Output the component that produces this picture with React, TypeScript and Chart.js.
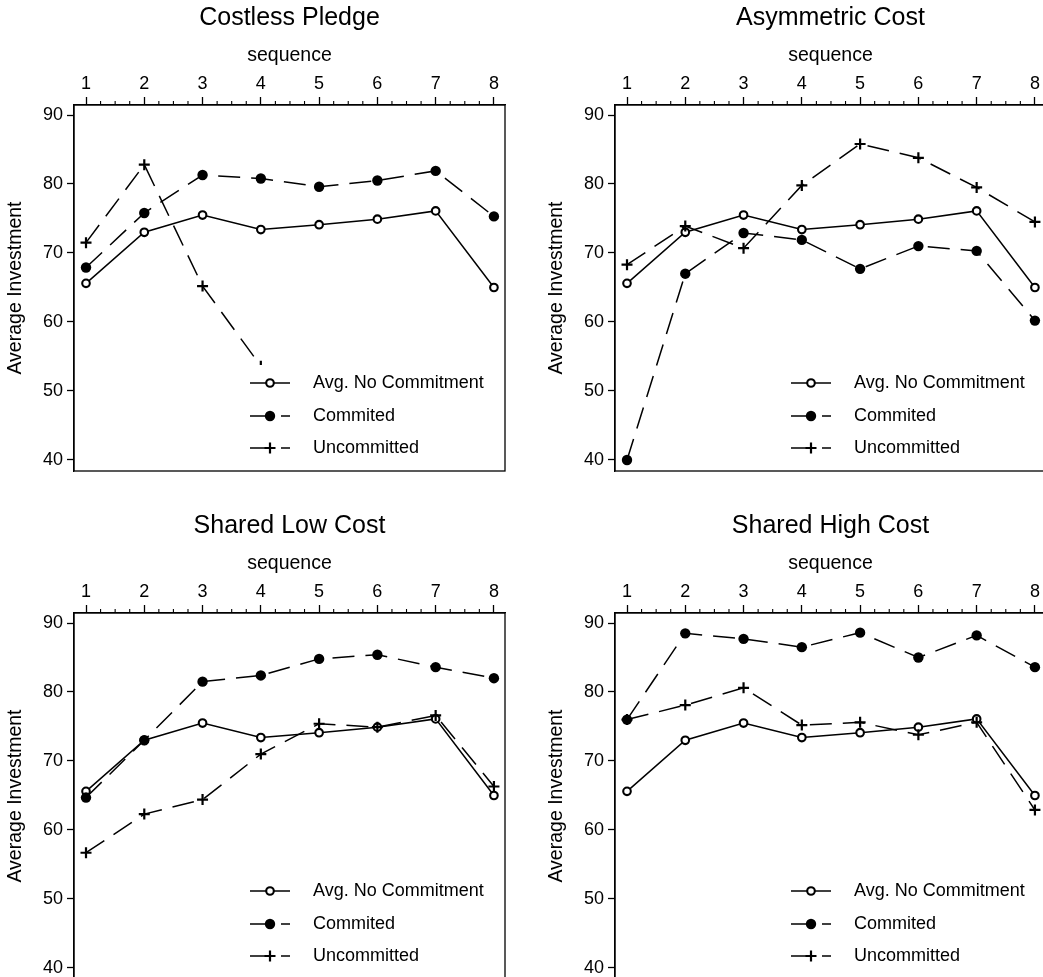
import React, { useEffect, useRef } from 'react';
import { Chart, registerables } from 'chart.js';

Chart.register(...registerables);

const FONT = "'Liberation Sans', Arial, Helvetica, sans-serif";
Chart.defaults.font.family = FONT;
Chart.defaults.color = '#000';

// ---------- data ----------
const sequence = [1, 2, 3, 4, 5, 6, 7, 8];
const xTicks = [1, 2, 3, 4, 5, 6, 7, 8];
const yTicks = [40, 50, 60, 70, 80, 90];
const seriesNames = ['Avg. No Commitment', 'Commited', 'Uncommitted'];
const panelTitles = ['Costless Pledge', 'Asymmetric Cost', 'Shared Low Cost', 'Shared High Cost'];

const avgNoCommitment = [65.6, 73.0, 75.5, 73.4, 74.1, 74.9, 76.1, 65.0];

const costlessCommitted = [67.9, 75.8, 81.3, 80.8, 79.6, 80.5, 81.9, 75.3];
const costlessUncommitted = [71.5, 82.8, 65.2, 53.6, null, null, null, null];

const asymmetricCommitted = [40.0, 67.0, 72.9, 71.9, 67.7, 71.0, 70.3, 60.2];
const asymmetricUncommitted = [68.3, 73.9, 70.7, 79.8, 85.8, 83.8, 79.5, 74.5];

const lowCommitted = [64.7, 73.0, 81.5, 82.4, 84.8, 85.4, 83.6, 82.0];
const lowUncommitted = [56.7, 62.3, 64.4, 71.0, 75.4, 74.9, 76.6, 66.3];

const highCommitted = [76.0, 88.5, 87.7, 86.5, 88.6, 85.0, 88.2, 83.6];
const highUncommitted = [76.0, 78.1, 80.6, 75.2, 75.6, 73.8, 75.6, 62.9];

const panelCommitted = [costlessCommitted, asymmetricCommitted, lowCommitted, highCommitted];
const panelUncommitted = [costlessUncommitted, asymmetricUncommitted, lowUncommitted, highUncommitted];

// ---------- styling constants ----------
const W = 541;
const H = 508;
const DASH = [22, 11];
const X_MIN = 0.794;
const X_MAX = 8.19;
const Y_MIN = 38.4;
const Y_MAX = 91.45;
const MINOR_STEP = 0.25;

function drawMarker(ctx: CanvasRenderingContext2D, kind: number, x: number, y: number) {
  ctx.save();
  ctx.setLineDash([]);
  ctx.strokeStyle = '#000';
  if (kind === 0) {
    ctx.beginPath();
    ctx.arc(x, y, 3.8, 0, Math.PI * 2);
    ctx.fillStyle = '#fff';
    ctx.fill();
    ctx.lineWidth = 2.1;
    ctx.stroke();
  } else if (kind === 1) {
    ctx.beginPath();
    ctx.arc(x, y, 5.2, 0, Math.PI * 2);
    ctx.fillStyle = '#000';
    ctx.fill();
  } else {
    ctx.lineWidth = 2.2;
    ctx.beginPath();
    ctx.moveTo(x - 5.5, y);
    ctx.lineTo(x + 5.5, y);
    ctx.moveTo(x, y - 5.5);
    ctx.lineTo(x, y + 5.5);
    ctx.stroke();
  }
  ctx.restore();
}

const decoPlugin = {
  id: 'panelDeco',
  afterDraw(chart: any) {
    const { ctx, chartArea } = chart;
    const { left, top, right, bottom } = chartArea;
    const xs = chart.scales.x;
    ctx.save();
    // full frame
    ctx.strokeStyle = '#000';
    ctx.lineWidth = 1.3;
    ctx.setLineDash([]);
    ctx.strokeRect(left, top, right - left, bottom - top);
    // minor ticks on top axis
    ctx.lineWidth = 1.1;
    ctx.beginPath();
    for (let v = xTicks[0]; v < xTicks[xTicks.length - 1]; v += MINOR_STEP) {
      if (Math.abs(v - Math.round(v)) < 1e-6) continue;
      const px = xs.getPixelForValue(v);
      ctx.moveTo(px, top - 4);
      ctx.lineTo(px, top);
    }
    ctx.stroke();
    // legend (white region inside plot)
    ctx.fillStyle = '#fff';
    ctx.fillRect(right - 265, bottom - 106, 260, 101);
    const rowOffsets = [88, 55, 23];
    const kx = right - 255;
    chart.data.datasets.forEach((ds: any, i: number) => {
      const y = bottom - rowOffsets[i];
      ctx.save();
      ctx.strokeStyle = '#000';
      ctx.lineWidth = 1.5;
      ctx.setLineDash(i === 0 ? [] : [20, 11]);
      ctx.beginPath();
      ctx.moveTo(kx, y);
      ctx.lineTo(kx + 40, y);
      ctx.stroke();
      ctx.restore();
      drawMarker(ctx, i, kx + 20, y);
      ctx.fillStyle = '#000';
      ctx.font = `18px ${FONT}`;
      ctx.textBaseline = 'middle';
      ctx.textAlign = 'left';
      ctx.fillText(ds.label, kx + 63, y);
    });
    ctx.restore();
  },
};

function makeConfig(title: string, committed: (number | null)[], uncommitted: (number | null)[]): any {
  const toPts = (vals: (number | null)[]) => sequence.map((s, i) => ({ x: s, y: vals[i] }));
  return {
    type: 'line',
    data: {
      datasets: [
        {
          label: seriesNames[0],
          data: toPts(avgNoCommitment),
          borderColor: '#000',
          borderWidth: 1.5,
          pointStyle: 'circle',
          pointRadius: 3.8,
          pointBorderWidth: 2.1,
          pointBackgroundColor: '#fff',
          pointBorderColor: '#000',
          order: 3,
        },
        {
          label: seriesNames[1],
          data: toPts(committed),
          borderColor: '#000',
          borderWidth: 1.5,
          borderDash: DASH,
          pointStyle: 'circle',
          pointRadius: 5.2,
          pointBorderWidth: 0,
          pointBackgroundColor: '#000',
          pointBorderColor: '#000',
          order: 2,
        },
        {
          label: seriesNames[2],
          data: toPts(uncommitted),
          borderColor: '#000',
          borderWidth: 1.5,
          borderDash: DASH,
          pointStyle: 'cross',
          pointRadius: 5.5,
          pointBorderWidth: 2.2,
          pointBorderColor: '#000',
          pointBackgroundColor: '#000',
          order: 1,
        },
      ],
    },
    options: {
      responsive: false,
      maintainAspectRatio: false,
      animation: false,
      spanGaps: false,
      layout: { padding: { left: 0, top: 0, right: 36, bottom: 37 } },
      plugins: {
        legend: { display: false },
        tooltip: { enabled: false },
        title: {
          display: true,
          fullSize: false,
          text: title,
          color: '#000',
          font: { size: 25, weight: 'normal', family: FONT, lineHeight: 1.2 },
          padding: { top: 2.8, bottom: 0 },
        },
      },
      scales: {
        x: {
          type: 'linear',
          position: 'top',
          min: X_MIN,
          max: X_MAX,
          bounds: 'data',
          afterBuildTicks: (s: any) => {
            s.ticks = xTicks.map((v) => ({ value: v }));
          },
          afterFit: (s: any) => {
            s.height = 72.2;
          },
          ticks: {
            autoSkip: false,
            maxRotation: 0,
            minRotation: 0,
            padding: 2,
            color: '#000',
            font: { size: 18, family: FONT },
          },
          grid: {
            drawOnChartArea: false,
            drawTicks: true,
            tickLength: 8,
            tickColor: '#000',
            tickWidth: 1.3,
          },
          border: { display: true, color: '#000', width: 1.3 },
          title: {
            display: true,
            text: 'sequence',
            color: '#000',
            font: { size: 19.5, family: FONT, lineHeight: 1.2 },
            padding: { top: 11.5, bottom: 0 },
          },
        },
        y: {
          type: 'linear',
          position: 'left',
          min: Y_MIN,
          max: Y_MAX,
          bounds: 'data',
          afterBuildTicks: (s: any) => {
            s.ticks = yTicks.map((v) => ({ value: v }));
          },
          afterFit: (s: any) => {
            s.width = 74;
          },
          ticks: {
            autoSkip: false,
            padding: 4,
            color: '#000',
            font: { size: 18, family: FONT },
          },
          grid: {
            drawOnChartArea: false,
            drawTicks: true,
            tickLength: 7,
            tickColor: '#000',
            tickWidth: 1.3,
          },
          border: { display: true, color: '#000', width: 1.3 },
          title: {
            display: true,
            text: 'Average Investment',
            color: '#000',
            font: { size: 19.5, family: FONT, lineHeight: 1.2 },
            padding: { top: 3.9, bottom: 0 },
          },
        },
      },
    },
    plugins: [decoPlugin],
  };
}

function Panel({ index }: { index: number }) {
  const ref = useRef<HTMLCanvasElement | null>(null);
  useEffect(() => {
    if (!ref.current) return;
    const chart = new Chart(
      ref.current,
      makeConfig(panelTitles[index], panelCommitted[index], panelUncommitted[index])
    );
    return () => chart.destroy();
  }, [index]);
  return (
    <div
      style={{
        position: 'absolute',
        left: (index % 2) * W,
        top: Math.floor(index / 2) * H,
        width: W,
        height: H,
      }}
    >
      <canvas ref={ref} width={W} height={H} style={{ display: 'block', width: W, height: H }} />
    </div>
  );
}

export default function App() {
  return (
    <div
      style={{
        position: 'fixed',
        left: 0,
        top: 0,
        width: 1043,
        height: 977,
        overflow: 'hidden',
        background: '#fff',
      }}
    >
      {panelTitles.map((t, i) => (
        <Panel key={t} index={i} />
      ))}
    </div>
  );
}
